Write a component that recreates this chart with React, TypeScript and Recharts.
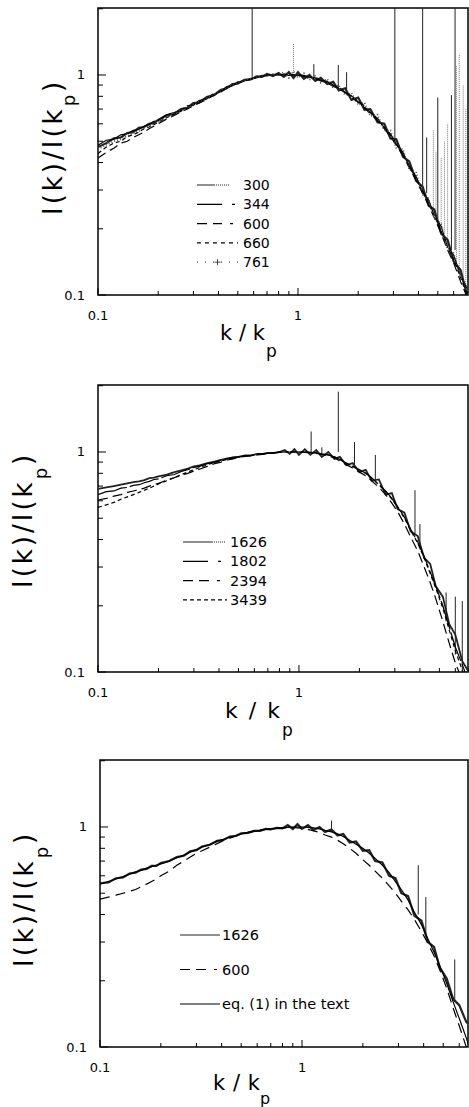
import React from 'react';
import { LineChart, Line, XAxis, YAxis, Legend, ReferenceArea } from 'recharts';

const FONT = '"DejaVu Sans", Verdana, sans-serif';
const SERIF = '"Liberation Serif", "Times New Roman", serif';

// shared k/kp grid
const K = [
  0.10, 0.11, 0.12, 0.13, 0.14, 0.15, 0.16, 0.17, 0.18, 0.19,
  0.20, 0.22, 0.24, 0.26, 0.28, 0.30, 0.32, 0.35, 0.38, 0.41,
  0.44, 0.47, 0.50, 0.54, 0.58, 0.62, 0.66, 0.70, 0.75, 0.80,
  0.85, 0.90, 0.95, 1.00, 1.07, 1.14, 1.22, 1.30, 1.40, 1.50,
  1.60, 1.72, 1.85, 2.00, 2.15, 2.30, 2.50, 2.70, 2.90, 3.10,
  3.35, 3.60, 3.90, 4.20, 4.50, 4.80, 5.20, 5.60, 6.00, 6.50,
  7.00,
];

// (a) Below transition
const A_300 = [
  0.47, 0.49, 0.515, 0.52, 0.545, 0.55, 0.575, 0.58, 0.60, 0.605,
  0.625, 0.655, 0.665, 0.70, 0.71, 0.745, 0.75, 0.795, 0.81, 0.855,
  0.87, 0.91, 0.915, 0.95, 0.955, 0.985, 0.98, 1.01, 0.99, 1.02,
  0.98, 1.03, 0.97, 1.03, 0.96, 1.0, 0.94, 0.97, 0.91, 0.93,
  0.85, 0.87, 0.77, 0.79, 0.695, 0.70, 0.61, 0.60, 0.515, 0.51,
  0.425, 0.405, 0.33, 0.31, 0.255, 0.245, 0.19, 0.178, 0.142, 0.13,
  0.10,
];
const A_344 = [
  0.48, 0.505, 0.51, 0.535, 0.54, 0.56, 0.565, 0.585, 0.595, 0.615,
  0.62, 0.66, 0.675, 0.69, 0.725, 0.73, 0.765, 0.78, 0.825, 0.84,
  0.885, 0.895, 0.93, 0.935, 0.965, 0.97, 0.995, 0.99, 1.01, 1.0,
  1.01, 0.995, 1.005, 0.995, 0.995, 0.975, 0.97, 0.945, 0.935, 0.895,
  0.88, 0.835, 0.805, 0.755, 0.725, 0.675, 0.635, 0.575, 0.54, 0.485,
  0.445, 0.385, 0.345, 0.295, 0.27, 0.23, 0.205, 0.165, 0.152, 0.122,
  0.107,
];
const A_600 = [
  0.42, 0.445, 0.465, 0.49, 0.50, 0.52, 0.535, 0.55, 0.57, 0.585,
  0.60, 0.63, 0.655, 0.68, 0.70, 0.725, 0.745, 0.775, 0.81, 0.835,
  0.87, 0.895, 0.915, 0.94, 0.955, 0.975, 0.985, 0.995, 1.0, 1.0,
  1.005, 0.995, 1.0, 0.995, 0.985, 0.975, 0.96, 0.94, 0.92, 0.89,
  0.865, 0.83, 0.79, 0.75, 0.71, 0.665, 0.62, 0.57, 0.525, 0.48,
  0.43, 0.38, 0.33, 0.29, 0.255, 0.225, 0.19, 0.16, 0.14, 0.115,
  0.098,
];
const A_660 = [
  0.44, 0.47, 0.49, 0.50, 0.525, 0.535, 0.55, 0.57, 0.58, 0.595,
  0.61, 0.64, 0.66, 0.685, 0.705, 0.73, 0.75, 0.78, 0.81, 0.84,
  0.87, 0.895, 0.92, 0.94, 0.96, 0.975, 0.99, 1.0, 1.0, 1.01,
  1.0, 1.0, 1.005, 1.0, 0.99, 0.98, 0.965, 0.95, 0.925, 0.90,
  0.87, 0.835, 0.80, 0.76, 0.715, 0.675, 0.625, 0.58, 0.53, 0.485,
  0.435, 0.385, 0.335, 0.295, 0.26, 0.23, 0.195, 0.165, 0.145, 0.12,
  0.10,
];
const A_761 = [
  0.46, 0.48, 0.50, 0.51, 0.53, 0.545, 0.555, 0.575, 0.585, 0.60,
  0.615, 0.64, 0.67, 0.69, 0.71, 0.735, 0.755, 0.785, 0.815, 0.845,
  0.875, 0.90, 0.92, 0.945, 0.96, 0.975, 0.99, 0.995, 1.0, 1.005,
  1.03, 0.97, 1.04, 0.97, 1.02, 0.95, 0.99, 0.92, 0.96, 0.87,
  0.90, 0.81, 0.83, 0.73, 0.75, 0.65, 0.66, 0.56, 0.56, 0.465,
  0.46, 0.37, 0.36, 0.285, 0.275, 0.225, 0.21, 0.16, 0.155, 0.12,
  0.11,
];
// spikes: [k, from, to]
const A_SPIKES_SOLID = [
  [0.59, 0.98, 2.1], [3.05, 0.49, 2.1], [4.2, 0.31, 2.1], [6.1, 0.16, 2.1],
  [4.4, 0.29, 0.52], [5.0, 0.22, 0.79], [5.85, 0.16, 0.81], [1.59, 0.87, 1.11],
  [1.75, 0.83, 1.03], [1.2, 0.97, 1.12],
];
const A_SPIKES_DOTTED = [
  [0.95, 1.0, 1.4], [4.75, 0.24, 0.56], [5.4, 0.19, 0.5], [6.2, 0.14, 1.1],
  [6.4, 0.13, 1.25], [6.7, 0.12, 0.9], [4.9, 0.23, 0.45], [5.2, 0.2, 0.42],
  [5.6, 0.17, 0.6], [6.9, 0.11, 0.7],
];

// (b) Above transition
const B_1626 = [
  0.68, 0.69, 0.70, 0.71, 0.72, 0.73, 0.735, 0.745, 0.76, 0.765,
  0.775, 0.79, 0.81, 0.825, 0.84, 0.86, 0.87, 0.89, 0.905, 0.92,
  0.935, 0.945, 0.95, 0.965, 0.965, 0.98, 0.98, 0.99, 0.99, 1.0,
  1.02, 0.98, 1.03, 0.97, 1.03, 0.97, 1.02, 0.95, 1.0, 0.93,
  0.95, 0.87, 0.89, 0.81, 0.83, 0.74, 0.75, 0.64, 0.65, 0.55,
  0.53, 0.435, 0.415, 0.33, 0.31, 0.245, 0.22, 0.165, 0.148, 0.112,
  0.10,
];
const B_1802 = [
  0.64, 0.66, 0.665, 0.685, 0.69, 0.705, 0.71, 0.725, 0.735, 0.75,
  0.755, 0.78, 0.79, 0.815, 0.83, 0.85, 0.86, 0.885, 0.90, 0.92,
  0.93, 0.945, 0.95, 0.96, 0.965, 0.975, 0.98, 0.985, 0.99, 0.995,
  1.0, 1.0, 1.0, 1.0, 1.0, 0.995, 0.99, 0.98, 0.97, 0.95,
  0.925, 0.89, 0.86, 0.83, 0.80, 0.765, 0.71, 0.665, 0.615, 0.565,
  0.505, 0.445, 0.39, 0.335, 0.285, 0.245, 0.20, 0.16, 0.13, 0.108,
  0.09,
];
const B_2394 = [
  0.605, 0.615, 0.63, 0.64, 0.655, 0.665, 0.675, 0.685, 0.70, 0.71,
  0.72, 0.745, 0.765, 0.785, 0.80, 0.82, 0.835, 0.86, 0.885, 0.90,
  0.92, 0.93, 0.945, 0.955, 0.96, 0.97, 0.975, 0.985, 0.99, 0.995,
  1.0, 1.0, 1.0, 1.0, 0.995, 0.99, 0.985, 0.975, 0.96, 0.94,
  0.91, 0.875, 0.845, 0.81, 0.78, 0.74, 0.69, 0.64, 0.585, 0.535,
  0.47, 0.41, 0.355, 0.30, 0.255, 0.215, 0.17, 0.135, 0.11, 0.092,
  0.08,
];
const B_3439 = [
  0.56, 0.575, 0.59, 0.61, 0.625, 0.64, 0.655, 0.67, 0.685, 0.70,
  0.715, 0.74, 0.765, 0.79, 0.81, 0.83, 0.85, 0.875, 0.895, 0.91,
  0.925, 0.935, 0.95, 0.96, 0.965, 0.975, 0.98, 0.99, 0.99, 1.0,
  1.0, 1.0, 1.0, 1.0, 1.0, 0.995, 0.99, 0.98, 0.97, 0.95,
  0.925, 0.89, 0.86, 0.83, 0.80, 0.76, 0.71, 0.66, 0.61, 0.56,
  0.50, 0.44, 0.385, 0.33, 0.28, 0.24, 0.195, 0.155, 0.125, 0.102,
  0.086,
];
const B_SPIKES = [
  [1.57, 1.0, 1.88], [1.15, 1.0, 1.24], [1.89, 0.86, 1.11], [1.3, 0.98, 1.05],
  [2.4, 0.73, 0.97], [3.78, 0.42, 0.67], [4.0, 0.36, 0.47], [5.4, 0.17, 0.23],
  [6.0, 0.12, 0.22], [6.5, 0.1, 0.21],
];

// (c) Cross comparison
const C_1626 = [
  0.555, 0.56, 0.585, 0.59, 0.615, 0.62, 0.64, 0.645, 0.665, 0.665,
  0.685, 0.70, 0.73, 0.74, 0.775, 0.785, 0.815, 0.83, 0.865, 0.875,
  0.905, 0.91, 0.935, 0.94, 0.96, 0.96, 0.98, 0.975, 0.99, 0.985,
  1.02, 0.98, 1.03, 0.98, 1.02, 0.97, 1.0, 0.95, 0.975, 0.915,
  0.93, 0.85, 0.86, 0.78, 0.785, 0.70, 0.69, 0.60, 0.585, 0.50,
  0.485, 0.395, 0.375, 0.30, 0.285, 0.23, 0.205, 0.165, 0.155, 0.13,
  0.122,
];
const C_600 = [
  0.47, 0.48, 0.49, 0.50, 0.51, 0.52, 0.535, 0.55, 0.565, 0.58,
  0.60, 0.63, 0.67, 0.70, 0.73, 0.76, 0.78, 0.81, 0.84, 0.87,
  0.89, 0.91, 0.93, 0.945, 0.96, 0.97, 0.975, 0.98, 0.985, 0.99,
  0.99, 0.995, 0.99, 0.985, 0.975, 0.96, 0.945, 0.92, 0.90, 0.87,
  0.84, 0.80, 0.76, 0.71, 0.67, 0.63, 0.585, 0.54, 0.50, 0.46,
  0.42, 0.38, 0.335, 0.295, 0.26, 0.225, 0.185, 0.15, 0.125, 0.10,
  0.085,
];
const C_EQ1 = [
  0.55, 0.565, 0.58, 0.595, 0.61, 0.625, 0.635, 0.65, 0.66, 0.67,
  0.68, 0.70, 0.725, 0.745, 0.77, 0.79, 0.81, 0.835, 0.86, 0.88,
  0.90, 0.915, 0.93, 0.945, 0.955, 0.965, 0.975, 0.98, 0.985, 0.99,
  0.995, 1.0, 1.0, 1.0, 0.995, 0.99, 0.98, 0.965, 0.95, 0.93,
  0.905, 0.87, 0.835, 0.80, 0.76, 0.72, 0.67, 0.62, 0.565, 0.52,
  0.465, 0.41, 0.36, 0.31, 0.27, 0.235, 0.195, 0.16, 0.135, 0.11,
  0.09,
];
const C_SPIKES = [
  [1.4, 0.95, 1.07], [3.76, 0.4, 0.67], [4.1, 0.32, 0.48], [5.7, 0.16, 0.25],
];

const X_TICKS = [0.1, 0.2, 0.3, 0.4, 0.5, 0.6, 0.7, 0.8, 0.9, 1, 2, 3, 4, 5, 6, 7];
const Y_TICKS = [0.1, 0.2, 0.3, 0.4, 0.5, 0.6, 0.7, 0.8, 0.9, 1, 2];
const MAJOR_VALUES = [0.1, 1];
const MAJOR_LABELS = ['0.1', '1'];
const Y_MIN = 0.1;
const Y_MAX = 2.016;

const LEGEND_A = ['300', '344', '600', '660', '761'];
const LEGEND_B = ['1626', '1802', '2394', '3439'];
const LEGEND_C = ['1626', '600', 'eq. (1) in the text'];

const toData = (vals: number[]) => K.map((k, i) => ({ k, v: vals[i] }));
const spikeData = (sp: number[][]) =>
  sp.flatMap(([k, lo, hi]) => [{ k, v: lo }, { k, v: hi }, { k, v: null as any }]);

const majorIndex = (v: number) => MAJOR_VALUES.findIndex((m) => Math.abs(m - v) < 1e-6);

const BottomTick = (p: any) => {
  const mi = majorIndex(p.payload.value);
  return (
    <g>
      <line x1={p.x} x2={p.x} y1={p.y} y2={p.y - (mi >= 0 ? 7 : 4)} stroke="#000" strokeWidth={1} />
      {mi >= 0 && (
        <text x={p.x} y={p.y + 25} textAnchor="middle" fontFamily={FONT} fontSize={13} fill="#000">
          {MAJOR_LABELS[mi]}
        </text>
      )}
    </g>
  );
};
const TopTick = (p: any) => {
  const mi = majorIndex(p.payload.value);
  return <line x1={p.x} x2={p.x} y1={p.y} y2={p.y + (mi >= 0 ? 7 : 4)} stroke="#000" strokeWidth={1} />;
};
const LeftTick = (p: any) => {
  const mi = majorIndex(p.payload.value);
  return (
    <g>
      <line x1={p.x} x2={p.x + (mi >= 0 ? 8 : 5)} y1={p.y} y2={p.y} stroke="#000" strokeWidth={1} />
      {mi >= 0 && (
        <text x={p.x - 13} y={p.y + 4.5} textAnchor="end" fontFamily={FONT} fontSize={13} fill="#000">
          {MAJOR_LABELS[mi]}
        </text>
      )}
    </g>
  );
};
const RightTick = (p: any) => {
  const mi = majorIndex(p.payload.value);
  return <line x1={p.x} x2={p.x - (mi >= 0 ? 8 : 5)} y1={p.y} y2={p.y} stroke="#000" strokeWidth={1} />;
};

type Style = { dash?: string; legendDash?: string; color: string; width: number; plus?: boolean };
type PanelCfg = {
  top: number; height: number; yWidth: number; xMax: number; xAxisHeight: number;
  names: string[]; values: number[][]; styles: Style[];
  spikes: { pts: number[][]; color: string; dash?: string; width: number }[];
  title: React.ReactNode; xlab: { x: number; y: number; len: number; fs: number; px: number; py: number; pfs: number };
  ylab: { x: number; y: number; sub: number };
  legend: { left: number; top: number; gap: number; lx1: number; lx2: number; tx: number; fs: number; w: number; h: number };
};

const XLabel = ({ c }: { c: PanelCfg['xlab'] }) => (
  <g>
    <text x={c.x} y={c.y} fontFamily={FONT} fontSize={c.fs} fill="#000" textLength={c.len} lengthAdjust="spacing">k/k</text>
    <text x={c.px} y={c.py} fontFamily={FONT} fontSize={c.pfs} fill="#000">p</text>
  </g>
);
const YLabel = ({ c }: { c: PanelCfg['ylab'] }) => (
  <text transform={`translate(${c.x},${c.y}) rotate(-90)`} fontFamily={FONT} fontSize={26} fill="#000" style={{ letterSpacing: '3px' }}>
    I(k)/I(k<tspan fontSize={18} dy={c.sub}>p</tspan><tspan fontSize={26} dy={-c.sub}>)</tspan>
  </text>
);

const LegendBox = ({ cfg }: { cfg: PanelCfg }) => {
  const L = cfg.legend;
  return (
    <svg width={L.w} height={L.h} style={{ display: 'block' }}>
      {cfg.names.map((n, i) => {
        const cy = 15 + i * L.gap;
        const st = cfg.styles[i];
        const mid = (L.lx1 + L.lx2) / 2;
        return (
          <g key={n + i}>
            <line x1={L.lx1} x2={L.lx2} y1={cy} y2={cy} stroke={st.color} strokeWidth={1.2} strokeDasharray={st.legendDash} />
            {st.plus && (
              <g stroke={st.color} strokeWidth={1}>
                <line x1={mid - 3} x2={mid + 3} y1={cy} y2={cy} />
                <line x1={mid} x2={mid} y1={cy - 3} y2={cy + 3} />
              </g>
            )}
            <text x={L.tx} y={cy + 5} fontFamily={FONT} fontSize={L.fs} fill="#000">{n}</text>
          </g>
        );
      })}
    </svg>
  );
};

function Panel({ cfg }: { cfg: PanelCfg }) {
  return (
    <div style={{ position: 'absolute', left: 0, top: cfg.top, width: 469, height: cfg.height }}>
      <LineChart width={469} height={cfg.height} margin={{ top: 8, right: 1, bottom: 0, left: 0 }}>
        <XAxis
          dataKey="k" type="number" scale="log" domain={[0.1, cfg.xMax]} allowDataOverflow
          ticks={X_TICKS} interval={0} height={cfg.xAxisHeight} tickSize={0} tickMargin={0}
          tickLine={false} axisLine={false} tick={BottomTick}
          label={{ content: () => <XLabel c={cfg.xlab} /> }}
        />
        <XAxis
          xAxisId="top" orientation="top" dataKey="k" type="number" scale="log" domain={[0.1, cfg.xMax]}
          allowDataOverflow ticks={X_TICKS} interval={0} height={0} tickSize={0} tickMargin={0}
          tickLine={false} axisLine={false} tick={TopTick}
          label={{ content: () => <g>{cfg.title}</g> }}
        />
        <YAxis
          type="number" scale="log" domain={[Y_MIN, Y_MAX]} allowDataOverflow ticks={Y_TICKS} interval={0}
          width={cfg.yWidth} tickSize={0} tickMargin={0} tickLine={false} axisLine={false} tick={LeftTick}
          label={{ content: () => <YLabel c={cfg.ylab} /> }}
        />
        <YAxis
          yAxisId="right" orientation="right" type="number" scale="log" domain={[Y_MIN, Y_MAX]} allowDataOverflow
          ticks={Y_TICKS} interval={0} width={0} tickSize={0} tickMargin={0} tickLine={false}
          axisLine={false} tick={RightTick}
        />
        {cfg.spikes.map((s, i) => (
          <Line
            key={'sp' + i} data={spikeData(s.pts)} dataKey="v" stroke={s.color} strokeWidth={s.width}
            strokeDasharray={s.dash} dot={false} activeDot={false} isAnimationActive={false}
            connectNulls={false} legendType="none"
          />
        ))}
        {cfg.values.map((vals, i) => (
          <Line
            key={cfg.names[i]} name={cfg.names[i]} data={toData(vals)} dataKey="v" type="linear"
            stroke={cfg.styles[i].color} strokeWidth={cfg.styles[i].width} strokeDasharray={cfg.styles[i].dash}
            dot={false} activeDot={false} isAnimationActive={false}
          />
        ))}
        <ReferenceArea
          x1={0.1} x2={cfg.xMax} y1={Y_MIN} y2={Y_MAX} fill="none" fillOpacity={0}
          stroke="#000" strokeWidth={1.5} ifOverflow="visible"
        />
        <Legend
          layout="horizontal" verticalAlign="middle" align="center"
          wrapperStyle={{ left: cfg.legend.left, top: cfg.legend.top, width: cfg.legend.w, height: cfg.legend.h }}
          content={() => <LegendBox cfg={cfg} />}
        />
      </LineChart>
    </div>
  );
}

const PANEL_A: PanelCfg = {
  top: 0, height: 375, yWidth: 98, xMax: 7.08, xAxisHeight: 80,
  names: LEGEND_A,
  values: [A_300, A_344, A_600, A_660, A_761],
  styles: [
    { color: '#222', width: 2.2, legendDash: '18 1 1 1 1 1 1 1 1 1 1 1 1 1 1 40' },
    { color: '#000', width: 1.2, dash: '30 3', legendDash: '25 10 3 20' },
    { color: '#000', width: 1.2, dash: '9 5', legendDash: '10 6 9 8 3 20' },
    { color: '#000', width: 1.2, dash: '4 3', legendDash: '4 4' },
    { color: '#444', width: 1.6, dash: '1 2', legendDash: '1 7', plus: true },
  ],
  spikes: [
    { pts: A_SPIKES_SOLID, color: '#222', width: 1 },
    { pts: A_SPIKES_DOTTED, color: '#777', width: 1, dash: '1 1' },
  ],
  title: (
    <g>
      <text x={128} y={34} fontFamily={FONT} fontSize={20} fill="#000">(a)</text>
      <text x={120} y={62} fontFamily={SERIF} fontSize={15} fill="#000" textLength={125} lengthAdjust="spacingAndGlyphs">Below Transition:</text>
    </g>
  ),
  xlab: { x: 220, y: 340, len: 45, fs: 21, px: 266, py: 357, pfs: 17 },
  ylab: { x: 62, y: 215, sub: 13 },
  legend: { left: 190, top: 170, gap: 19.3, lx1: 7, lx2: 48, tx: 53, fs: 14, w: 100, h: 105 },
};

const PANEL_B: PanelCfg = {
  top: 377, height: 375, yWidth: 98, xMax: 6.94, xAxisHeight: 80,
  names: LEGEND_B,
  values: [B_1626, B_1802, B_2394, B_3439],
  styles: [
    { color: '#222', width: 1.8, legendDash: '30 1 1 1 1 1 1 1 1 1 1 1 1 40' },
    { color: '#000', width: 1.2, dash: '30 3', legendDash: '25 10 3 20' },
    { color: '#000', width: 1.2, dash: '10 5', legendDash: '10 6 10 8 3 20' },
    { color: '#000', width: 1.2, dash: '4 3', legendDash: '4 3' },
  ],
  spikes: [{ pts: B_SPIKES, color: '#222', width: 1 }],
  title: (
    <g>
      <text x={128} y={43} fontFamily={FONT} fontSize={21} fill="#000">( b)</text>
      <text x={165} y={43} fontFamily={FONT} fontSize={17} fill="#000" textLength={155} lengthAdjust="spacingAndGlyphs">Above Transition:</text>
    </g>
  ),
  xlab: { x: 225, y: 341, len: 55, fs: 22, px: 282, py: 359, pfs: 17 },
  ylab: { x: 32, y: 211, sub: 15 },
  legend: { left: 178, top: 150, gap: 19.3, lx1: 5, lx2: 49, tx: 52, fs: 14.5, w: 110, h: 90 },
};

const PANEL_C: PanelCfg = {
  top: 752, height: 355, yWidth: 100, xMax: 6.63, xAxisHeight: 60,
  names: LEGEND_C,
  values: [C_1626, C_600, C_EQ1],
  styles: [
    { color: '#222', width: 2.2, legendDash: '40 1 1 1 1 1 1 40' },
    { color: '#000', width: 1.2, dash: '10 6', legendDash: '10 6 10 8 3 20' },
    { color: '#000', width: 1.2 },
  ],
  spikes: [{ pts: C_SPIKES, color: '#222', width: 1 }],
  title: (
    <g>
      <text x={130} y={45} fontFamily={FONT} fontSize={20} fill="#000">(c)</text>
      <text x={178} y={45} fontFamily={SERIF} fontSize={13} fill="#000" textLength={67} lengthAdjust="spacingAndGlyphs">Cross Comparison:</text>
    </g>
  ),
  xlab: { x: 213, y: 338, len: 47, fs: 21, px: 260, py: 352, pfs: 16 },
  ylab: { x: 33, y: 215, sub: 15 },
  legend: { left: 175, top: 168, gap: 34.5, lx1: 5, lx2: 45, tx: 47, fs: 14.5, w: 200, h: 100 },
};

export default function App() {
  return (
    <div style={{ position: 'absolute', left: 0, top: 0, width: 469, height: 1107, background: '#fff', overflow: 'hidden' }}>
      <Panel cfg={PANEL_A} />
      <Panel cfg={PANEL_B} />
      <Panel cfg={PANEL_C} />
    </div>
  );
}
